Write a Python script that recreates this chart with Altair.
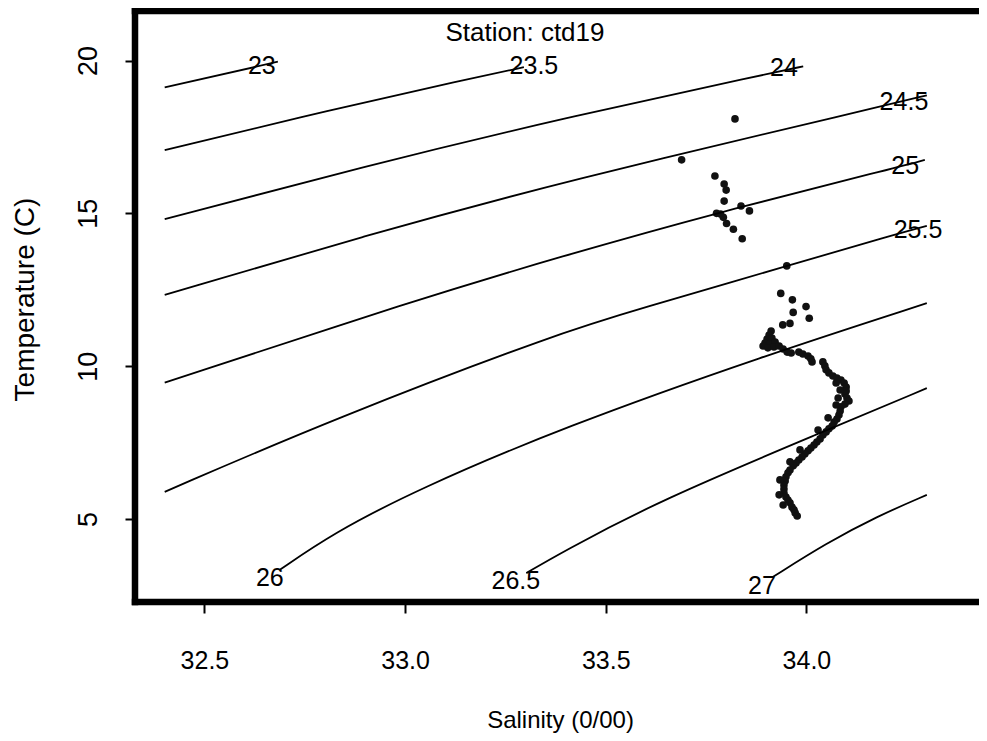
import altair as alt
import pandas as pd

# ---- axis ranges (salinity, temperature) ----
X_MIN, X_MAX = 32.327, 34.43
Y_MIN, Y_MAX = 2.285, 21.62
W, H = 844, 591

x_ticks = [32.5, 33.0, 33.5, 34.0]
y_ticks = [5, 10, 15, 20]

# ---- sigma-t contours ----
c23_s = [32.401, 32.683]
c23_t = [19.12, 19.96]
c235_s = [32.401, 32.820, 33.152, 33.296]
c235_t = [17.07, 18.40, 19.38, 19.78]
c24_s = [32.401, 32.902, 33.393, 33.909, 33.992]
c24_t = [14.81, 16.55, 18.11, 19.58, 19.81]
c245_s = [32.401, 32.897, 33.393, 34.183, 34.300]
c245_t = [12.33, 14.26, 16.04, 18.49, 18.86]
c25_s = [32.401, 33.028, 33.386, 33.785, 34.216, 34.295]
c25_t = [9.46, 12.17, 13.58, 15.05, 16.47, 16.75]
c255_s = [32.401, 32.820, 33.393, 33.577, 33.951, 34.216, 34.300]
c255_t = [5.89, 8.27, 11.13, 11.84, 13.28, 14.29, 14.59]
c26_s = [32.687, 32.820, 33.028, 33.393, 33.901, 34.300]
c26_t = [3.33, 4.53, 5.95, 8.00, 10.37, 12.06]
c265_s = [33.302, 33.386, 33.635, 34.050, 34.300]
c265_t = [3.23, 3.88, 5.62, 7.90, 9.28]
c27_s = [33.917, 34.050, 34.175, 34.300]
c27_t = [3.11, 4.21, 5.08, 5.79]

contour_levels = ["23", "23.5", "24", "24.5", "25", "25.5", "26", "26.5", "27"]
label_s = [32.643, 33.321, 33.944, 34.243, 34.246, 34.278, 32.663, 33.276, 33.889]
label_t = [19.82, 19.82, 19.75, 18.64, 16.55, 14.46, 3.07, 2.97, 2.81]

# ---- CTD observations (station ctd19) ----
obs_s = [33.822, 33.689, 33.772, 33.795, 33.800, 33.795, 33.837, 33.858, 33.776,
         33.786, 33.793, 33.801, 33.818, 33.840, 33.951, 33.936, 33.965, 33.999,
         34.007, 33.967, 33.941, 33.959,
         33.912, 33.907, 33.902, 33.914, 33.897, 33.909, 33.922, 33.892, 33.904,
         33.919, 33.932, 33.942, 33.952, 33.962,
         33.981, 33.991, 34.004, 34.011, 34.014,
         34.041, 34.046, 34.049, 34.056, 34.066, 34.076, 34.086, 34.094, 34.099,
         34.099, 34.096, 34.101, 34.106, 34.096, 34.086, 34.084, 34.081, 34.076,
         34.069, 34.064, 34.056, 34.049, 34.041, 34.034, 34.026, 34.019, 34.011,
         34.004, 33.996, 33.989, 33.981, 33.974, 33.967, 33.959, 33.954, 33.949,
         33.947, 33.944, 33.944, 33.944, 33.949, 33.954, 33.959, 33.964, 33.969,
         33.972, 33.977,
         34.074, 34.084, 34.079, 34.074, 34.054, 34.029, 33.984, 33.959, 33.934,
         33.932, 33.942]
obs_t = [18.09, 16.75, 16.22, 15.96, 15.76, 15.40, 15.24, 15.08, 15.00,
         14.98, 14.87, 14.67, 14.48, 14.17, 13.28, 12.38, 12.17, 11.95,
         11.57, 11.76, 11.35, 11.40,
         11.15, 11.02, 10.89, 10.92, 10.76, 10.73, 10.79, 10.66, 10.60,
         10.63, 10.66, 10.56, 10.46, 10.43,
         10.46, 10.40, 10.33, 10.24, 10.14,
         10.14, 10.01, 9.88, 9.78, 9.68, 9.61, 9.55, 9.45, 9.32,
         9.19, 9.09, 8.96, 8.86, 8.76, 8.67, 8.53, 8.40, 8.27,
         8.17, 8.04, 7.95, 7.85, 7.75, 7.62, 7.52, 7.42, 7.32,
         7.23, 7.13, 7.03, 6.93, 6.83, 6.74, 6.60, 6.51, 6.38,
         6.24, 6.11, 5.98, 5.85, 5.72, 5.62, 5.53, 5.39, 5.30,
         5.20, 5.10,
         9.45, 9.22, 8.96, 8.73, 8.31, 7.91, 7.26, 6.87, 6.28,
         5.79, 5.46]

station_title = "Station: ctd19"

FONT = "Liberation Sans"

# ---- build tables ----
contours = [c23_s, c235_s, c24_s, c245_s, c25_s, c255_s, c26_s, c265_s, c27_s]
contours_t = [c23_t, c235_t, c24_t, c245_t, c25_t, c255_t, c26_t, c265_t, c27_t]
rows = []
for lev, ss, tt in zip(contour_levels, contours, contours_t):
    for i, (s, t) in enumerate(zip(ss, tt)):
        rows.append({"level": lev, "i": i, "S": s, "T": t})
lines_df = pd.DataFrame(rows)
labels_df = pd.DataFrame({"level": contour_levels, "S": label_s, "T": label_t})
obs_df = pd.DataFrame({"S": obs_s, "T": obs_t})
one = pd.DataFrame({"k": [0]})

x_enc = alt.X(
    "S:Q",
    scale=alt.Scale(domain=[X_MIN, X_MAX], nice=False, zero=False),
    axis=alt.Axis(
        values=x_ticks, format=".1f", grid=False, domain=False,
        ticks=True, tickSize=11, tickWidth=2, tickColor="black",
        labelFont=FONT, labelFontSize=25, labelColor="black",
        labelBaseline="middle", labelPadding=47, labelFlush=False,
        title="Salinity (0/00)", titleFont=FONT, titleFontSize=24,
        titleFontWeight="normal", titleColor="black",
        titleX=425, titleY=118, titleAlign="center", titleBaseline="middle",
    ),
)
y_enc = alt.Y(
    "T:Q",
    scale=alt.Scale(domain=[Y_MIN, Y_MAX], nice=False, zero=False),
    axis=alt.Axis(
        values=y_ticks, format="d", grid=False, domain=False,
        ticks=True, tickSize=10, tickWidth=2, tickColor="black",
        labelFont=FONT, labelFontSize=27, labelColor="black",
        labelAngle=270, labelAlign="center", labelBaseline="middle",
        labelPadding=37, labelFlush=False,
        title="Temperature (C)", titleFont=FONT, titleFontSize=28,
        titleFontWeight="normal", titleColor="black",
        titleX=-110, titleY=288, titleAngle=270,
        titleAlign="center", titleBaseline="middle",
    ),
)

points = alt.Chart(obs_df).mark_circle(size=58, color="#111111", opacity=1).encode(
    x=x_enc, y=y_enc
)

lines = alt.Chart(lines_df).mark_line(
    color="black", strokeWidth=1.8, interpolate="basis"
).encode(x=x_enc, y=y_enc, detail="level:N", order="i:Q")

labels = alt.Chart(labels_df).mark_text(
    font=FONT, fontSize=25, color="black", align="center", baseline="middle"
).encode(x=x_enc, y=y_enc, text="level:N")

title_txt = alt.Chart(one).mark_text(
    font=FONT, fontSize=26, color="black", align="center", baseline="middle"
).encode(x=alt.value(390), y=alt.value(22), text=alt.value(station_title))

frame_left = alt.Chart(one).mark_rule(
    color="black", strokeWidth=6.5, strokeCap="square"
).encode(x=alt.value(0), y=alt.value(0), y2=alt.value(H))
frame_top = alt.Chart(one).mark_rule(
    color="black", strokeWidth=6.5, strokeCap="square"
).encode(x=alt.value(0), x2=alt.value(W + 5), y=alt.value(0))
frame_bottom = alt.Chart(one).mark_rule(
    color="black", strokeWidth=6.5, strokeCap="square"
).encode(x=alt.value(0), x2=alt.value(W + 5), y=alt.value(H))

chart = alt.layer(
    points, lines, labels, title_txt, frame_left, frame_top, frame_bottom
).properties(
    width=W, height=H,
    autosize=alt.AutoSizeParams(type="none"),
    padding={"left": 127, "top": 3, "right": 0, "bottom": 131},
    background="white",
).configure_view(stroke=None)

chart.save("out.html", embed_options={"renderer": "svg", "actions": False})
